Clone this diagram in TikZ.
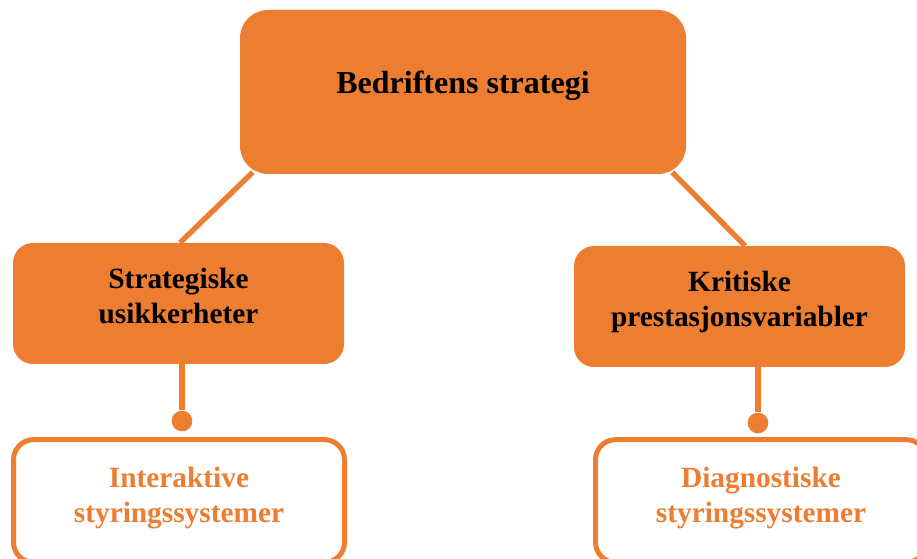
\documentclass[tikz,border=0pt]{standalone}
\usepackage{fontspec}
\setmainfont{Liberation Serif}
\usetikzlibrary{calc,backgrounds}
\definecolor{strategiorange}{HTML}{ED7D31}
\tikzset{
  hovedboks/.style={fill=strategiorange,rounded corners=21pt,minimum width=334.5pt,minimum height=123pt,inner sep=0pt,
    font=\bfseries\fontsize{24}{29}\selectfont,text height=9.5pt,text depth=6.5pt},
  delboks/.style={fill=strategiorange,rounded corners=15pt,minimum width=248.25pt,minimum height=90.75pt,inner sep=0pt,
    align=center,font=\bfseries\fontsize{22}{26.25}\selectfont,text height=30.5pt,text depth=0pt},
  systemboks/.style={draw=strategiorange,line width=3.75pt,fill=white,rounded corners=15pt,minimum width=248.25pt,minimum height=92pt,inner sep=0pt,
    align=center,text=strategiorange,font=\bfseries\fontsize{22}{26.25}\selectfont,text height=32.5pt,text depth=0pt},
  linje/.style={draw=strategiorange,line width=4pt},
  prikk/.style={circle,fill=strategiorange,inner sep=0pt,minimum size=15.5pt}
}
\begin{document}
\begin{tikzpicture}[x=0.75pt,y=-0.75pt]
\useasboundingbox (0,0) rectangle (917,559);

% Bokser
\node[hovedboks] (strategi) at (463,92) {Bedriftens strategi};
\node[delboks] (usikker) at (178.5,303.5) {Strategiske\\usikkerheter};
\node[delboks] (kritisk) at (739.5,306.5) {Kritiske\\prestasjonsvariabler};
\node[systemboks] (interaktiv) at (179,501) {Interaktive\\styringssystemer};
\node[systemboks] (diagnostisk) at (761,501) {Diagnostiske\\styringssystemer};

% Prikker
\node[prikk] (prikkvenstre) at (182,421) {};
\node[prikk] (prikkhoyre) at (758,423) {};

% Linjer
\begin{scope}[on background layer]
\draw[linje] ($(strategi.south west)+(13,-2)$) -- ($(usikker.north)+(1.5,0)$);
\draw[linje] ($(strategi.south east)+(-14,-2)$) -- ($(kritisk.north)+(5.5,0)$);
\draw[linje] (usikker.south -| prikkvenstre) -- (prikkvenstre);
\draw[linje] (kritisk.south -| prikkhoyre) -- (prikkhoyre);
\end{scope}
\end{tikzpicture}
\end{document}
